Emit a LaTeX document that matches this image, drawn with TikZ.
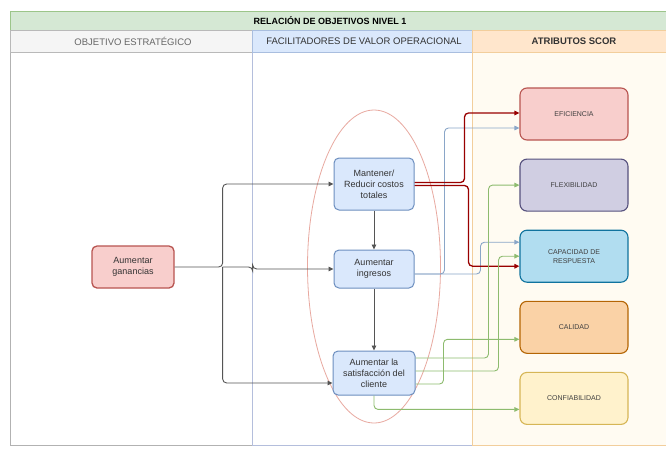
\documentclass[tikz,border=0pt]{standalone}
\usepackage{fontspec}
\setmainfont{Liberation Sans}
\usetikzlibrary{arrows.meta,positioning,shapes.geometric,calc}
\definecolor{titlefill}{HTML}{D5E8D4}
\definecolor{titleline}{HTML}{9CC58A}
\definecolor{hdrgray}{HTML}{F5F5F5}
\definecolor{hdrblue}{HTML}{DAE8FC}
\definecolor{hdrblueline}{HTML}{A9BEDF}
\definecolor{hdrorange}{HTML}{FFE6CC}
\definecolor{hdrorangeline}{HTML}{F2CE9C}
\definecolor{bodyblue}{HTML}{B4BEDC}
\definecolor{bodycream}{HTML}{FFFBF2}
\definecolor{ovalred}{HTML}{E8A9A0}
\definecolor{gainfill}{HTML}{F8CECC}
\definecolor{gainline}{HTML}{B85450}
\definecolor{levfill}{HTML}{DAE8FC}
\definecolor{levline}{HTML}{6C8EBF}
\definecolor{effill}{HTML}{F8CECC}
\definecolor{efline}{HTML}{B85450}
\definecolor{flfill}{HTML}{D0CEE2}
\definecolor{flline}{HTML}{56517E}
\definecolor{cpfill}{HTML}{B1DDF0}
\definecolor{cpline}{HTML}{10739E}
\definecolor{clfill}{HTML}{FAD2A6}
\definecolor{clline}{HTML}{B46504}
\definecolor{cffill}{HTML}{FFF2CC}
\definecolor{cfline}{HTML}{D6B656}
\definecolor{linkgray}{HTML}{555555}
\definecolor{linkred}{HTML}{990000}
\definecolor{linkblue}{HTML}{8AA6C8}
\definecolor{linkgreen}{HTML}{8DBB6E}
\tikzset{
  lane/.style={draw=#1, line width=0.8pt},
  hdrtxt/.style={font=\fontsize{9.5}{11}\selectfont, text=black!80},
  goal/.style={rectangle, rounded corners=5pt, draw=gainline, fill=gainfill, line width=1.3pt,
               minimum width=82pt, minimum height=42pt, align=center,
               font=\fontsize{9}{11}\selectfont, text=black!80},
  lever/.style={rectangle, rounded corners=5pt, draw=levline, fill=levfill, line width=1pt,
                minimum width=80pt, align=center, inner sep=2pt,
                font=\fontsize{9}{11}\selectfont, text=black!80},
  attr/.style={rectangle, rounded corners=7pt, line width=1.1pt, minimum width=108pt,
               minimum height=52pt, align=center, font=\fontsize{7}{9}\selectfont, text=black!75},
  ar/.style={-{Triangle[length=5pt,width=4.5pt]}, line width=0.9pt, draw=linkgray, rounded corners=4pt},
  arr/.style={ar, draw=linkred, line width=1.3pt},
  arb/.style={ar, draw=linkblue},
  arg/.style={ar, draw=linkgreen},
}
\begin{document}
\begin{tikzpicture}[x=1pt,y=-1pt]
\useasboundingbox (0,0) rectangle (666,450);

% ================= lanes and headers =================
\draw[lane=gray!60, fill=white] (10,52) rectangle (252,445);
\draw[lane=bodyblue, fill=white] (252,52) rectangle (472,445);
\draw[lane=hdrorangeline, fill=bodycream] (472,52) rectangle (680,445);
\draw[lane=titleline, fill=titlefill] (10,11) rectangle (680,30);
\draw[lane=gray!55, fill=hdrgray] (10,30) rectangle (252,52);
\draw[lane=hdrblueline, fill=hdrblue] (252,30) rectangle (472,52);
\draw[lane=hdrorangeline, fill=hdrorange] (472,30) rectangle (680,52);

\node[font=\fontsize{9}{11}\selectfont\bfseries] (ttl) at (330,20.5) {RELACIÓN DE OBJETIVOS NIVEL 1};
\node[hdrtxt, text=black!60] (h1) at (133,41) {OBJETIVO ESTRATÉGICO};
\node[hdrtxt] (h2) at (364,41) {FACILITADORES DE VALOR OPERACIONAL};
\node[hdrtxt, font=\fontsize{9.5}{11}\selectfont\bfseries] (h3) at (574,41) {ATRIBUTOS SCOR};

% ================= operational enablers =================
\node[ellipse, draw=ovalred, line width=0.8pt, minimum width=133pt, minimum height=313pt] (grp) at (374,266.5) {};

\node[goal] (gan) at (133,267) {Aumentar\\ganancias};

\node[lever, minimum height=52pt] (mant) at (374,184) {Mantener/\\Reducir costos\\totales};
\node[lever, minimum height=38pt, below=39pt of mant] (ing) {Aumentar\\ingresos};
\node[lever, minimum height=44pt, minimum width=82pt, below=62pt of ing] (sat)
  {Aumentar la\\satisfacción del\\cliente};

% ================= SCOR attributes =================
\node[attr, draw=efline, fill=effill] (efi) at (574,114) {EFICIENCIA};
\node[attr, draw=flline, fill=flfill, below=18pt of efi] (flex) {FLEXIBILIDAD};
\node[attr, draw=cpline, fill=cpfill, below=18pt of flex] (cap) {CAPACIDAD DE\\RESPUESTA};
\node[attr, draw=clline, fill=clfill, below=18pt of cap] (cal) {CALIDAD};
\node[attr, draw=cfline, fill=cffill, below=18pt of cal] (conf) {CONFIABILIDAD};

% ================= links =================
\coordinate (split) at ($(gan.east)+(48,0)$);
\coordinate (jog) at ($(split)+(30,0)$);
\draw[ar] (gan.east) -- (split) |- (mant.west);
\draw[ar] (split) -- (jog) |- (ing.west);
\draw[ar] (split) |- ([yshift=-10pt]sat.west);
\foreach \a/\b in {mant/ing, ing/sat} {\draw[ar] (\a) -- (\b);}

\draw[arb] ([yshift=-5pt]ing.east) -- ++(30,0) |- ([yshift=-14pt]efi.west);
\draw[arb] ([yshift=-5pt]ing.east) -- ++(66,0) |- ([yshift=14pt]cap.west);

\draw[arr] ([yshift=1.5pt]mant.east) -- ++(50,0) |- ([yshift=1pt]efi.west);
\draw[arr] ([yshift=-1.5pt]mant.east) -- ++(54,0) |- ([yshift=-10pt]cap.west);

\draw[arg] ([yshift=15pt]sat.east) -- ++(73,0) |- (flex.west);
\draw[arg] ([yshift=2pt]sat.east) -- ++(83,0) |- (cap.west);
\draw[arg] ([yshift=-11pt]sat.east) -- ++(28,0) |- ([yshift=-12pt]cal.west);
\draw[arg] (sat.south) |- ([yshift=-11pt]conf.west);

\end{tikzpicture}
\end{document}
